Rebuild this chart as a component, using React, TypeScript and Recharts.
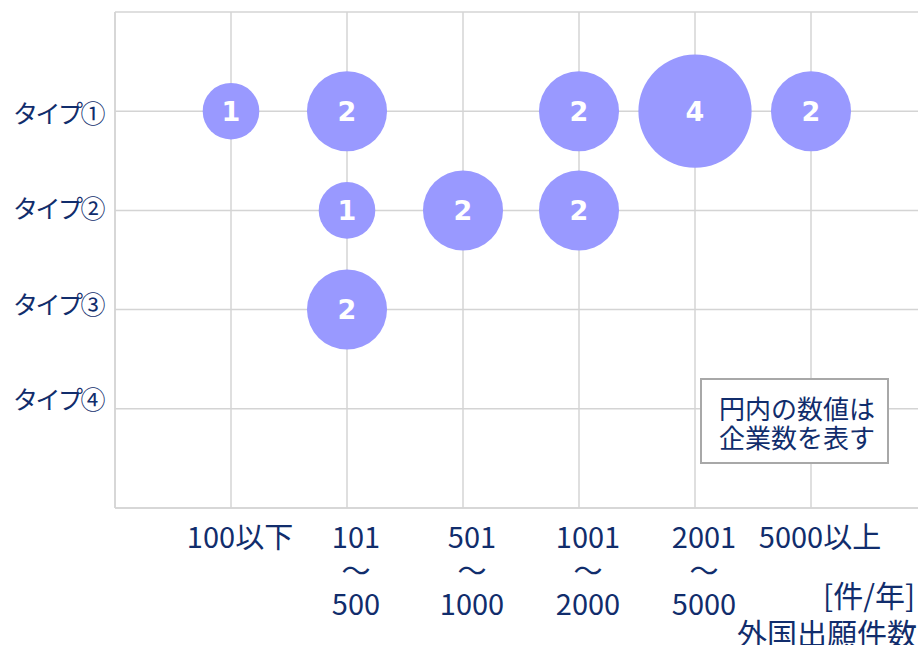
import React from 'react';
import {
  ScatterChart,
  Scatter,
  XAxis,
  YAxis,
  ZAxis,
  CartesianGrid,
  LabelList,
  Label
} from 'recharts';

// filing-volume bands along the x axis (line breaks inside a label are drawn as separate lines)
const sizeBands = ['100以下', '101\n～\n500', '501\n～\n1000', '1001\n～\n2000', '2001\n～\n5000', '5000以上'];
const typeNames = ['タイプ①', 'タイプ②', 'タイプ③', 'タイプ④'];

// number of companies in each band, one array per type
const type1Counts = [1, 2, 0, 2, 4, 2];
const type2Counts = [0, 1, 2, 2, 0, 0];
const type3Counts = [0, 2, 0, 0, 0, 0];
const type4Counts = [0, 0, 0, 0, 0, 0];

const xTicks = [0, 1, 2, 3, 4, 5, 6, 7];
const yTicks = [0, 1, 2, 3, 4, 5];

const NAVY = '#112d6c';
const BUBBLE = '#9999ff';
const GRID = '#d4d4d4';
const JP_FONT = '"Noto Sans CJK JP", "Noto Sans", sans-serif';

const countsByType = [type1Counts, type2Counts, type3Counts, type4Counts];

// x = band index (1..6), y = row (type ① at the top)
const points = countsByType.flatMap((counts, t) =>
  counts
    .map((count, i) => ({ band: i + 1, row: typeNames.length - t, count }))
    .filter((p) => p.count > 0)
);

// bubble area grows with the count; a single company gets r ≈ 28px
const UNIT_R = 28.3;
const zRange: [number, number] = [0, 4 * Math.PI * UNIT_R * UNIT_R];

function BandTick(props: any) {
  const { x, y, payload } = props;
  const v = payload.value;
  if (v < 1 || v > sizeBands.length) return null;
  const lines = sizeBands[v - 1].split('\n');
  return (
    <text
      x={x + 9}
      y={y + 32}
      textAnchor="middle"
      fill={NAVY}
      fontSize={29}
      fontFamily={JP_FONT}
    >
      {lines.map((line, i) => (
        <tspan key={i} x={x + 9} dy={i === 0 ? 0 : 33.5}>
          {line}
        </tspan>
      ))}
    </text>
  );
}

function TypeTick(props: any) {
  const { x, y, payload } = props;
  const v = payload.value;
  if (v < 1 || v > typeNames.length) return null;
  // row labels sit on a slightly tighter pitch than the grid rows
  const shift = (v - 3.2) * 3.7;
  return (
    <text
      x={x - 4}
      y={y + shift}
      dy="0.35em"
      textAnchor="end"
      fill={NAVY}
      fontSize={25}
      letterSpacing={-2.5}
      fontFamily={JP_FONT}
    >
      {typeNames[typeNames.length - v]}
    </text>
  );
}

function AxisTitle(props: any) {
  const vb = props.viewBox || {};
  return (
    <g fill={NAVY} fontSize={30} fontFamily={JP_FONT}>
      <text x={vb.x + 708} y={vb.y + 99}>[件/年]</text>
      <text x={vb.x + 622} y={vb.y + 137}>外国出願件数</text>
    </g>
  );
}

export default function App() {
  return (
    <div
      style={{
        position: 'absolute',
        left: 0,
        top: 0,
        width: 918,
        height: 645,
        overflow: 'hidden',
        background: '#fff'
      }}
    >
      <ScatterChart width={960} height={645} margin={{ top: 12, right: 33, bottom: 0, left: 0 }}>
        <CartesianGrid stroke={GRID} strokeWidth={1.5} />
        <XAxis
          type="number"
          dataKey="band"
          domain={[0, 7]}
          ticks={xTicks}
          interval={0}
          height={137}
          tickLine={false}
          axisLine={{ stroke: GRID, strokeWidth: 1.5 }}
          tick={<BandTick />}
        >
          <Label content={<AxisTitle />} />
        </XAxis>
        <YAxis
          type="number"
          dataKey="row"
          domain={[0, 5]}
          ticks={yTicks}
          interval={0}
          width={115}
          tickLine={false}
          axisLine={{ stroke: GRID, strokeWidth: 1.5 }}
          tick={<TypeTick />}
        />
        <ZAxis type="number" dataKey="count" domain={[0, 4]} range={zRange} />
        <Scatter data={points} fill={BUBBLE} isAnimationActive={false}>
          <LabelList
            dataKey="count"
            position="center"
            fill="#ffffff"
            fontSize={27}
            fontWeight="bold"
            fontFamily='"DejaVu Sans", Verdana, sans-serif'
          />
        </Scatter>
      </ScatterChart>
      <div
        style={{
          position: 'absolute',
          left: 700,
          top: 378,
          width: 189,
          height: 86,
          boxSizing: 'border-box',
          border: '2px solid #a8a8a8',
          background: '#fff',
          padding: '13px 0 0 17px',
          lineHeight: '29px',
          fontSize: 26,
          fontFamily: JP_FONT,
          color: NAVY,
          whiteSpace: 'nowrap'
        }}
      >
        円内の数値は
        <br />
        企業数を表す
      </div>
    </div>
  );
}
